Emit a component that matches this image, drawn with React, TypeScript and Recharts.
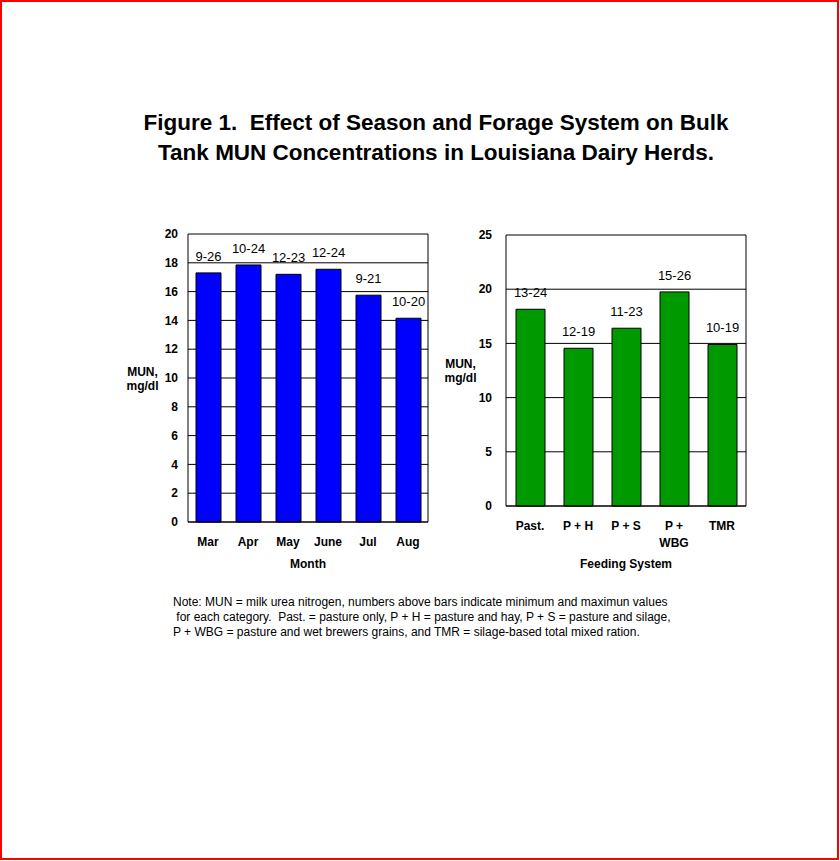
import { BarChart, Bar, XAxis, YAxis, CartesianGrid, LabelList, Label } from 'recharts';

const months = ['Mar', 'Apr', 'May', 'June', 'Jul', 'Aug'];
const monthMun = [17.3, 17.85, 17.2, 17.55, 15.75, 14.15];
const monthRange = ['9-26', '10-24', '12-23', '12-24', '9-21', '10-20'];
const monthTicks = [0, 2, 4, 6, 8, 10, 12, 14, 16, 18, 20];

const systems = ['Past.', 'P + H', 'P + S', 'P +\nWBG', 'TMR'];
const systemMun = [18.15, 14.55, 16.4, 19.75, 14.9];
const systemRange = ['13-24', '12-19', '11-23', '15-26', '10-19'];
const systemTicks = [0, 5, 10, 15, 20, 25];

const monthData = months.map((m, i) => ({ name: m, mun: monthMun[i], range: monthRange[i] }));
const systemData = systems.map((s, i) => ({ name: s, mun: systemMun[i], range: systemRange[i] }));

const FONT = '"Liberation Sans", Arial, sans-serif';

function CatTick({ x, y, payload }: any) {
  const lines = String(payload.value).split('\n');
  return (
    <text x={x} y={y} textAnchor="middle" fontFamily={FONT} fontSize={12} fontWeight="bold" fill="#000">
      {lines.map((l, i) => (
        <tspan key={i} x={x} dy={i === 0 ? 23.5 : 17.5}>{l}</tspan>
      ))}
    </text>
  );
}

const yTitle = (props: any) => {
  const vb = props.viewBox;
  const cx = vb.x + vb.width - 45.5;
  const cy = vb.y + vb.height / 2;
  return (
    <text textAnchor="middle" fontFamily={FONT} fontSize={12} fontWeight="bold" fill="#000">
      <tspan x={cx} y={cy - 2.5}>MUN,</tspan>
      <tspan x={cx} y={cy + 11.5}>mg/dl</tspan>
    </text>
  );
};

const xTitle = (text: string, dy: number) => (props: any) => {
  const vb = props.viewBox;
  return (
    <text x={vb.x + vb.width / 2} y={vb.y + dy} textAnchor="middle" fontFamily={FONT} fontSize={12} fontWeight="bold" fill="#000">
      {text}
    </text>
  );
};

const yTick = { fill: '#000', fontFamily: FONT, fontSize: 12, fontWeight: 'bold' };

export default function App() {
  return (
    <div
      style={{
        position: 'absolute', left: 0, top: 0, width: 839, height: 860,
        boxSizing: 'border-box', border: '2px solid #ff0000', background: '#fff',
        fontFamily: FONT, color: '#000',
      }}
    >
      <div
        style={{
          position: 'absolute', left: 84, top: 106, width: 700, textAlign: 'center',
          fontSize: 22.5, fontWeight: 'bold', lineHeight: '30px', whiteSpace: 'pre',
        }}
      >
        {'Figure 1.  Effect of Season and Forage System on Bulk\nTank MUN Concentrations in Louisiana Dairy Herds.'}
      </div>

      <div style={{ position: 'absolute', left: 108, top: 218 }}>
        <BarChart width={330} height={360} data={monthData} barSize={25}
          margin={{ top: 14, right: 11, left: 18, bottom: 0 }}>
          <CartesianGrid vertical={false} stroke="#000" strokeOpacity={1} />
          <XAxis dataKey="name" interval={0} height={58} tickLine={false} tickSize={0} tickMargin={0}
            axisLine={{ stroke: '#000' }} tick={<CatTick />}>
            <Label content={xTitle('Month', 45.5)} />
          </XAxis>
          <YAxis domain={[0, 20]} ticks={monthTicks} width={60} tickLine={false} tickSize={0} tickMargin={10}
            axisLine={{ stroke: '#000' }} tick={yTick} interval={0}>
            <Label content={yTitle} />
          </YAxis>
          <YAxis yAxisId="r" orientation="right" domain={[0, 20]} width={1} tick={false} tickLine={false}
            axisLine={{ stroke: '#000' }} />
          <Bar dataKey="mun" fill="#0000ff" stroke="#000" strokeWidth={1} isAnimationActive={false}>
            <LabelList dataKey="range" position="top" offset={12} fill="#000" fontFamily={FONT} fontSize={13} />
          </Bar>
        </BarChart>
      </div>

      <div style={{ position: 'absolute', left: 433, top: 218 }}>
        <BarChart width={330} height={360} data={systemData} barSize={29}
          margin={{ top: 15, right: 18, left: 11, bottom: 0 }}>
          <CartesianGrid vertical={false} stroke="#000" strokeOpacity={1} />
          <XAxis dataKey="name" interval={0} height={74} tickLine={false} tickSize={0} tickMargin={0}
            axisLine={{ stroke: '#000' }} tick={<CatTick />}>
            <Label content={xTitle('Feeding System', 61.5)} />
          </XAxis>
          <YAxis domain={[0, 25]} ticks={systemTicks} width={60} tickLine={false} tickSize={0} tickMargin={14}
            axisLine={{ stroke: '#000' }} tick={yTick} interval={0}>
            <Label content={yTitle} />
          </YAxis>
          <YAxis yAxisId="r" orientation="right" domain={[0, 25]} width={1} tick={false} tickLine={false}
            axisLine={{ stroke: '#000' }} />
          <Bar dataKey="mun" fill="#009900" stroke="#000" strokeWidth={1} isAnimationActive={false}>
            <LabelList dataKey="range" position="top" offset={12} fill="#000" fontFamily={FONT} fontSize={13} />
          </Bar>
        </BarChart>
      </div>

      <div
        style={{
          position: 'absolute', left: 171, top: 593, fontSize: 12, lineHeight: '15px', whiteSpace: 'pre',
        }}
      >
        {'Note: MUN = milk urea nitrogen, numbers above bars indicate minimum and maximun values\n for each category.  Past. = pasture only, P + H = pasture and hay, P + S = pasture and silage,\nP + WBG = pasture and wet brewers grains, and TMR = silage-based total mixed ration.'}
      </div>
    </div>
  );
}
